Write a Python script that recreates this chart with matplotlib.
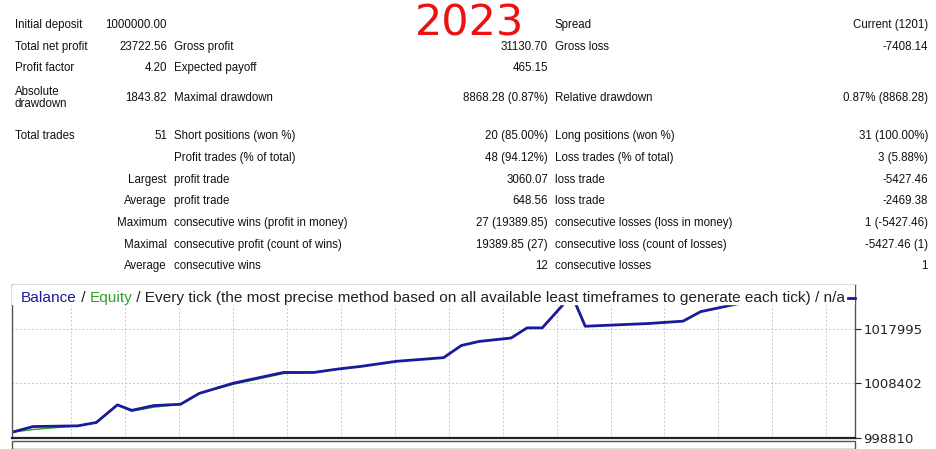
import matplotlib.pyplot as plt
from matplotlib.patches import Rectangle

W, H = 937, 449

# balance curve (x = position along test period, 0..1000)
time_pos = [0, 25, 78, 100, 125, 142, 168, 200, 222, 262, 322, 358, 386, 414,
            456, 512, 533, 554, 592, 611, 629, 648, 664, 680, 755, 796, 817, 863]
balance = [999820, 1000817, 1000941, 1001528, 1004618, 1003659, 1004493, 1004724,
           1006624, 1008400, 1010301, 1010301, 1010887, 1011366, 1012254, 1012894,
           1015025, 1015735, 1016339, 1018115, 1018115, 1021241, 1023900, 1018400,
           1018880, 1019290, 1020960, 1022400]
equity = [999820, 1000300, 1000941, 1001528, 1004618, 1003500, 1004200, 1004724,
          1006624, 1008200, 1010101, 1010301, 1010887, 1011366, 1012254, 1012894,
          1015025, 1015735, 1016339, 1018115, 1018115, 1021241, 1024300, 1018400,
          1018880, 1019290, 1020960, 1022400]
y_ticks = [998810, 1008402, 1017995]

rows = [
    # (y, label1, value1, label2, value2, label3, value3)
    (25, "Initial deposit", "1000000.00", "", "", "Spread", "Current (1201)"),
    (47, "Total net profit", "23722.56", "Gross profit", "31130.70", "Gross loss", "-7408.14"),
    (68, "Profit factor", "4.20", "Expected payoff", "465.15", "", ""),
    (98, "Absolute\ndrawdown", "1843.82", "Maximal drawdown", "8868.28 (0.87%)", "Relative drawdown", "0.87% (8868.28)"),
    (136, "Total trades", "51", "Short positions (won %)", "20 (85.00%)", "Long positions (won %)", "31 (100.00%)"),
]
rows_right = [
    (158, "", "Profit trades (% of total)", "48 (94.12%)", "Loss trades (% of total)", "3 (5.88%)"),
    (180, "Largest", "profit trade", "3060.07", "loss trade", "-5427.46"),
    (201, "Average", "profit trade", "648.56", "loss trade", "-2469.38"),
    (223, "Maximum", "consecutive wins (profit in money)", "27 (19389.85)", "consecutive losses (loss in money)", "1 (-5427.46)"),
    (245, "Maximal", "consecutive profit (count of wins)", "19389.85 (27)", "consecutive loss (count of losses)", "-5427.46 (1)"),
    (266, "Average", "consecutive wins", "12", "consecutive losses", "1"),
]

plt.rcParams['font.family'] = 'Liberation Sans'
fig = plt.figure(figsize=(W / 100, H / 100), dpi=100)
fig.patch.set_facecolor('white')


def put(x, y, s, ha='left', **kw):
    fig.text(x / W, 1 - y / H, s, ha=ha, va='center', fontsize=8.3, color='#111111', **kw)


for y, l1, v1, l2, v2, l3, v3 in rows:
    put(15, y, l1, linespacing=1.0)
    put(167, y, v1, ha='right')
    put(174, y, l2)
    put(548, y, v2, ha='right')
    put(555, y, l3)
    put(928, y, v3, ha='right')
for y, l1, l2, v2, l3, v3 in rows_right:
    put(167, y, l1, ha='right')
    put(174, y, l2)
    put(548, y, v2, ha='right')
    put(555, y, l3)
    put(928, y, v3, ha='right')

fig.text(470 / W, 1 - 24 / H, "2023", ha='center', va='center', fontsize=31, color='#ee1111',
         family='DejaVu Sans')

# chart panel
ax = fig.add_axes([12 / W, 1 - 438 / H, (855 - 12) / W, (438 - 285) / H])
ax.plot(time_pos, equity, color='#2ca02c', lw=1.0)
ax.plot(time_pos, balance, color='#1a1a9c', lw=2.0)
ax.set_xlim(0, 1000)
ax.set_ylim(998810, 1025630)
ax.set_xticks(range(70, 1000, 64))
ax.set_yticks(y_ticks)
ax.set_yticklabels([str(v) for v in y_ticks], fontsize=9.5, family='DejaVu Sans')
ax.tick_params(axis='x', length=0, labelbottom=False)
ax.tick_params(axis='y', left=False, right=True, labelleft=False, labelright=True,
               length=4, pad=2, colors='#222222')
ax.grid(True, ls=(0, (2, 2)), color='#c8c8c8', lw=0.7)
for s in ax.spines.values():
    s.set_color('#555555')
    s.set_linewidth(1.0)
ax.spines['bottom'].set_linewidth(1.6)
ax.spines['bottom'].set_color('#222222')

# white band holding the legend line (hides the top of the curve like the original)
ax.add_patch(Rectangle((0, 0.875), 1, 0.125, transform=ax.transAxes, color='white', zorder=5))

parts = [("Balance", '#1a1a9c'), (" / ", '#222222'), ("Equity", '#2ca02c'),
         (" / Every tick (the most precise method based on all available least timeframes to generate each tick) / n/a",
          '#222222')]
x = 21
fig.canvas.draw()
r = fig.canvas.get_renderer()
for s, c in parts:
    t = fig.text(x / W, 1 - 298 / H, s, color=c, fontsize=11.1, va='center', family='Liberation Sans',
                 zorder=10)
    bb = t.get_window_extent(renderer=r)
    x += bb.width
ax.plot([0.992, 1.0], [0.915, 0.915], transform=ax.transAxes, color='#1a1a9c', lw=2,
        clip_on=False, zorder=6)

# lower panel edge
fig.patches.append(Rectangle((12 / W, 0), (855 - 12) / W, 8 / H, transform=fig.transFigure,
                             fill=False, ec='#555555', lw=1.0))

fig.savefig('out.png', dpi=100, facecolor='white')
